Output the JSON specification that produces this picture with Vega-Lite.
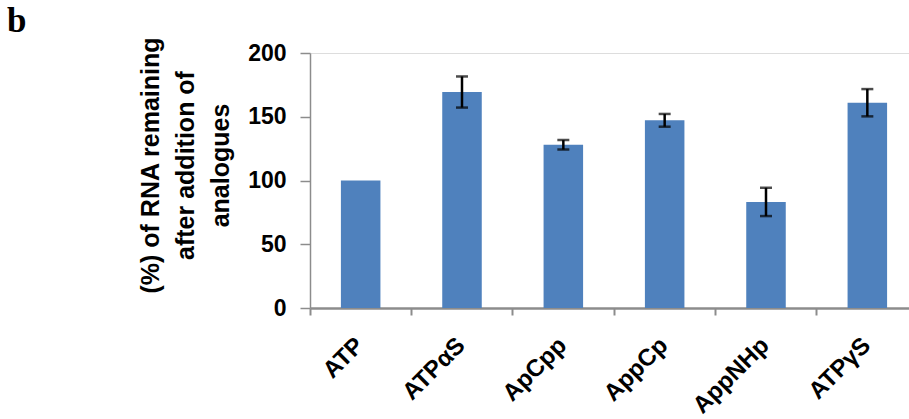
{
  "$schema": "https://vega.github.io/schema/vega-lite/v6.json",
  "width": 608,
  "height": 255,
  "autosize": "none",
  "padding": {"left": 310, "top": 53, "right": -9, "bottom": 111},
  "background": "white",
  "title": {
    "text": "b",
    "anchor": "start",
    "frame": "group",
    "font": "Liberation Serif",
    "fontSize": 35,
    "fontWeight": "bold",
    "color": "black",
    "baseline": "alphabetic",
    "dx": -303,
    "offset": -30
  },
  "data": {
    "values": [
      {"analogue": "ATP", "value": 100, "err": 0},
      {"analogue": "ATPαS", "value": 169.4, "err": 12.2},
      {"analogue": "ApCpp", "value": 128, "err": 3.7},
      {"analogue": "AppCp", "value": 147.2, "err": 5},
      {"analogue": "AppNHp", "value": 83.2, "err": 11.1},
      {"analogue": "ATPγS", "value": 161, "err": 10.7}
    ]
  },
  "encoding": {
    "x": {
      "field": "analogue",
      "type": "nominal",
      "sort": null,
      "scale": {"paddingInner": 0, "paddingOuter": 0},
      "axis": {
        "title": null,
        "bandPosition": 0,
        "labelAngle": -45,
        "labelAlign": "right",
        "labelBaseline": "top",
        "labelFont": "Liberation Sans",
        "labelFontWeight": "bold",
        "labelFontSize": 24,
        "labelColor": "black",
        "labelPadding": 18,
        "labelOffset": -9,
        "tickSize": 7,
        "tickColor": "#8c8c8c",
        "tickWidth": 2,
        "domainColor": "#8c8c8c",
        "domainWidth": 2.5,
        "grid": false
      }
    }
  },
  "layer": [
    {
      "mark": {"type": "bar", "width": {"band": 0.39}, "color": "#4F81BD"},
      "encoding": {
        "y": {
          "field": "value",
          "type": "quantitative",
          "scale": {"domain": [0, 200]},
          "axis": {
            "title": ["(%) of RNA remaining", "after addition of", "analogues"],
            "titleFont": "Liberation Sans",
            "titleFontWeight": "bold",
            "titleFontSize": 25,
            "titleColor": "black",
            "titleLineHeight": 35,
            "titleAngle": -90,
            "titleAlign": "center",
            "titleBaseline": "top",
            "titleX": -172,
            "titleY": 112,
            "values": [0, 50, 100, 150, 200],
            "labelFont": "Liberation Sans",
            "labelFontWeight": "bold",
            "labelFontSize": 23,
            "labelColor": "black",
            "labelPadding": 14,
            "tickSize": 10,
            "tickColor": "#8c8c8c",
            "tickWidth": 1.5,
            "domainColor": "#8c8c8c",
            "domainWidth": 1.5,
            "grid": false
          }
        }
      }
    },
    {
      "transform": [
        {"filter": "datum.err > 0"},
        {"calculate": "datum.value - datum.err", "as": "lo"},
        {"calculate": "datum.value + datum.err", "as": "hi"}
      ],
      "layer": [
        {
          "mark": {"type": "rule", "color": "black", "strokeWidth": 2.5},
          "encoding": {
            "y": {"field": "lo", "type": "quantitative"},
            "y2": {"field": "hi"}
          }
        },
        {
          "mark": {"type": "tick", "color": "black", "size": 12, "thickness": 2.5},
          "encoding": {"y": {"field": "lo", "type": "quantitative"}}
        },
        {
          "mark": {"type": "tick", "color": "black", "size": 12, "thickness": 2.5},
          "encoding": {"y": {"field": "hi", "type": "quantitative"}}
        }
      ]
    }
  ]
}
